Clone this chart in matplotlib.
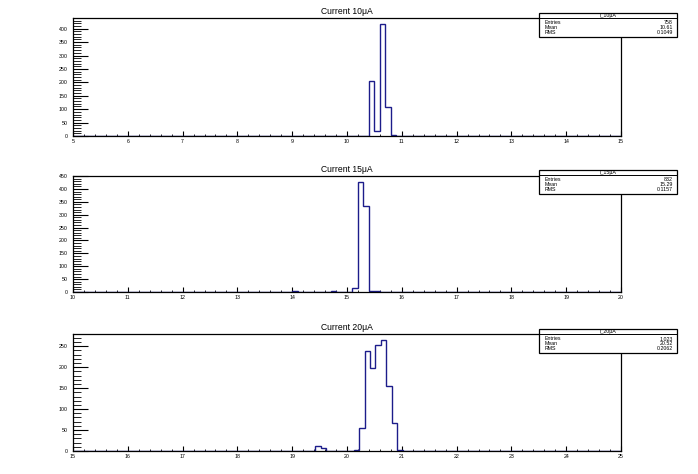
import numpy as np
import matplotlib
matplotlib.use("Agg")
import matplotlib.pyplot as plt
from matplotlib.ticker import MultipleLocator
from matplotlib.patches import Rectangle

plt.rcParams['font.family'] = ['Liberation Sans', 'DejaVu Sans']

# histogram data (bin left edge -> count)
titles = ["Current 10\u03bcA", "Current 15\u03bcA", "Current 20\u03bcA"]
names = ["I_10\u03bcA", "I_15\u03bcA", "I_20\u03bcA"]
xranges = [(5, 15), (10, 20), (15, 25)]
bin_offset = [0.0, 0.0, 0.02]

edges_10 = [10.4, 10.5, 10.6, 10.7, 10.8]
counts_10 = [205, 18, 419, 109, 3]

edges_15 = [14.0, 14.7, 15.1, 15.2, 15.3, 15.4, 15.5]
counts_15 = [2, 3, 17, 429, 335, 5, 2]

edges_20 = [19.42, 19.52, 20.12, 20.22, 20.32, 20.42, 20.52, 20.62, 20.72, 20.82, 20.92]
counts_20 = [12, 8, 2, 55, 238, 197, 254, 266, 155, 67, 2]

entries = ["758", "832", "1,023"]
means = ["10.61", "15.29", "20.52"]
rmss = ["0.1049", "0.1157", "0.2062"]

data = [(edges_10, counts_10), (edges_15, counts_15), (edges_20, counts_20)]

W, H = 698, 474
fig = plt.figure(figsize=(W / 100, H / 100), dpi=100)

# frame positions in pixels (top, bottom)
frames = [(18, 136), (176, 292), (334, 451)]
boxes = [13, 170, 329]
left, right = 73, 621
col = '#1c1c8a'

for i in range(3):
    top, bot = frames[i]
    ax = fig.add_axes([left / W, 1 - bot / H, (right - left) / W, (bot - top) / H])
    x0, x1 = xranges[i]
    bins = np.round(np.arange(x0 + bin_offset[i], x1, 0.1), 3)
    bins = np.append(bins, bins[-1] + 0.1)
    e, c = data[i]
    centers = np.array(e) + 0.05
    ax.hist(centers, bins=bins, weights=c, histtype='step', color=col, lw=1.0)
    ax.set_xlim(x0, x1)
    ax.set_ylim(0, max(c) * 1.05)
    ax.xaxis.set_major_locator(MultipleLocator(1))
    ax.xaxis.set_minor_locator(MultipleLocator(0.2))
    ax.yaxis.set_major_locator(MultipleLocator(50))
    ax.yaxis.set_minor_locator(MultipleLocator(10))
    ax.tick_params(axis='x', which='major', direction='in', length=3.5, width=0.8,
                   labelsize=3.8, pad=2, top=False)
    ax.tick_params(axis='x', which='minor', direction='in', length=1.8, width=0.6, top=False)
    ax.tick_params(axis='y', which='major', direction='in', length=11, width=0.8,
                   labelsize=3.8, pad=4, right=False)
    ax.tick_params(axis='y', which='minor', direction='in', length=5.5, width=0.6, right=False)
    for s in ax.spines.values():
        s.set_linewidth(0.9)
    ax.set_title(titles[i], fontsize=6.2, pad=3)

    # stats box
    by = boxes[i]
    bx0, bx1 = 539, 677
    bh = 24
    fig.patches.append(Rectangle((bx0 / W, 1 - (by + bh) / H), (bx1 - bx0) / W, bh / H,
                                 transform=fig.transFigure, facecolor='white',
                                 edgecolor='black', lw=0.9, zorder=5))
    fig.add_artist(plt.Line2D([bx0 / W, bx1 / W], [1 - (by + 5) / H] * 2,
                              transform=fig.transFigure, color='black', lw=0.7, zorder=6))
    fig.text((bx0 + bx1) / 2 / W, 1 - (by + 2.6) / H, names[i], fontsize=3.8,
             ha='center', va='center', zorder=7)
    rows = [("Entries", entries[i]), ("Mean", means[i]), ("RMS", rmss[i])]
    for k, (lab, val) in enumerate(rows):
        yy = 1 - (by + 9.5 + 5.2 * k) / H
        fig.text((bx0 + 6) / W, yy, lab, fontsize=3.8, ha='left', va='center', zorder=7)
        fig.text((bx1 - 4) / W, yy, val, fontsize=3.8, ha='right', va='center', zorder=7)

fig.savefig("out.png", dpi=100)
